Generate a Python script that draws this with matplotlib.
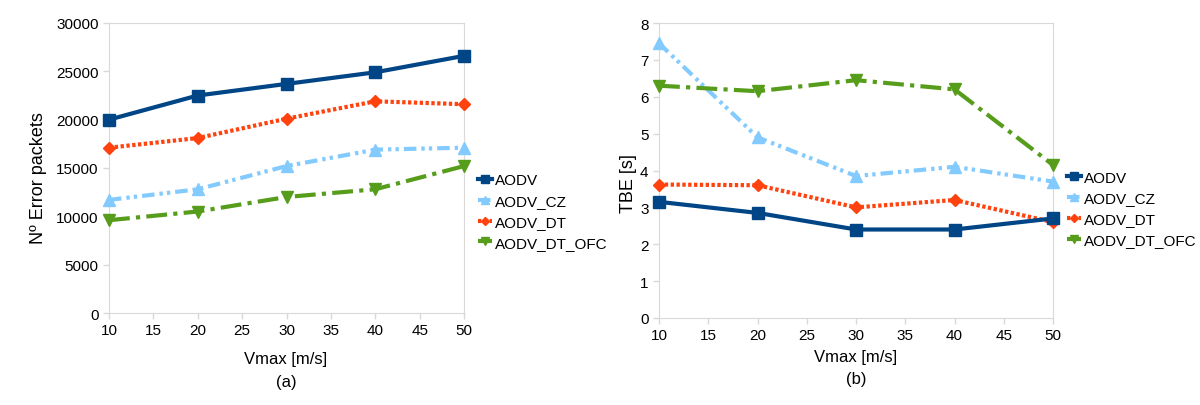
import matplotlib
matplotlib.use('Agg')
import matplotlib.pyplot as plt

plt.rcParams['font.family'] = ['Liberation Sans', 'DejaVu Sans']

vmax = [10, 20, 30, 40, 50]
names = ['AODV', 'AODV_CZ', 'AODV_DT', 'AODV_DT_OFC']

err_aodv = [20000, 22500, 23700, 24900, 26600]
err_cz = [11700, 12800, 15200, 16900, 17100]
err_dt = [17100, 18100, 20100, 21900, 21600]
err_ofc = [9600, 10500, 12000, 12800, 15200]

tbe_aodv = [3.15, 2.85, 2.4, 2.4, 2.7]
tbe_cz = [7.45, 4.9, 3.85, 4.1, 3.7]
tbe_dt = [3.62, 3.6, 3.0, 3.2, 2.6]
tbe_ofc = [6.3, 6.15, 6.45, 6.2, 4.15]

colors = ['#004586', '#83caff', '#ff420e', '#579d1c']
markers = ['s', '^', 'D', 'v']
msizes = [8, 8, 6, 8]
dashes = [None, (3, 1.2, 0.8, 1.0, 0.8, 1.2), (0.8, 0.6), (5, 1.5, 1, 1.5)]

W, H = 1200, 406
fig = plt.figure(figsize=(12, 4.06), dpi=100)
ax1 = fig.add_axes([109 / W, 1 - 314 / H, 355 / W, 290 / H])
ax2 = fig.add_axes([659 / W, 1 - 319 / H, 394 / W, 295 / H])

def draw(ax, series, ymax, ystep, ylabel, leg_y, ylab_pos):
    for i, ys in enumerate(series):
        ln, = ax.plot(vmax, ys, color=colors[i], marker=markers[i], ms=msizes[i],
                      lw=3, label=names[i], clip_on=False, zorder=3 + (i == 0))
        if dashes[i] is not None:
            ln.set_dashes(dashes[i])
    ax.set_xlim(10, 50)
    ax.set_ylim(0, ymax)
    ax.set_xticks(range(10, 51, 5))
    ax.set_yticks([ystep * k for k in range(int(round(ymax / ystep)) + 1)])
    for s in ax.spines.values():
        s.set_color('#d9d9d9')
    ax.tick_params(colors='#d9d9d9', labelcolor='black', labelsize=11, length=4, width=1)
    ax.set_ylabel(ylabel, fontsize=13)
    ax.yaxis.set_label_coords(*ylab_pos)
    ax.legend(loc='center left', bbox_to_anchor=(1.0, leg_y), frameon=False, fontsize=11,
              handlelength=0.9, handletextpad=0.2, labelspacing=0.45, markerscale=0.7)

draw(ax1, [err_aodv, err_cz, err_dt, err_ofc], 30000, 5000, 'Nº Error packets', 0.35, (-0.175, 0.47))
draw(ax2, [tbe_aodv, tbe_cz, tbe_dt, tbe_ofc], 8, 1, 'TBE [s]', 0.37, (-0.055, 0.46))

fig.text(286 / W, 1 - 360 / H, 'Vmax [m/s]', ha='center', va='center', fontsize=12)
fig.text(286 / W, 1 - 383 / H, '(a)', ha='center', va='center', fontsize=12)
fig.text(856 / W, 1 - 358 / H, 'Vmax [m/s]', ha='center', va='center', fontsize=12)
fig.text(856 / W, 1 - 380 / H, '(b)', ha='center', va='center', fontsize=12)

fig.savefig('out.png', dpi=100)
